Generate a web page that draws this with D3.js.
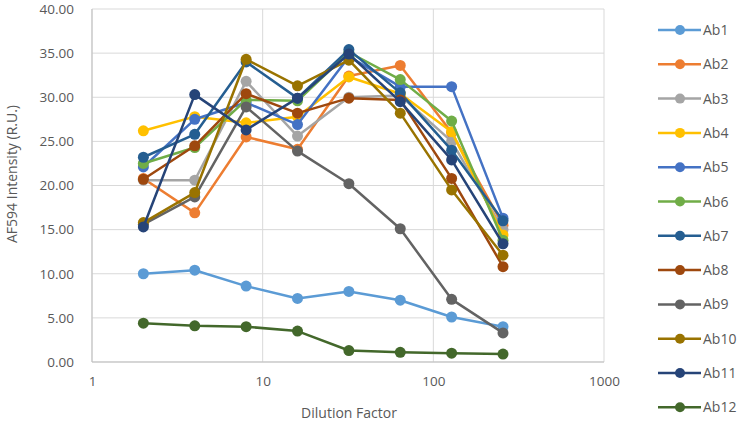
<!DOCTYPE html>
<html><head><meta charset="utf-8">
<script src="https://cdn.jsdelivr.net/npm/d3@7"></script>
<style>body{margin:0;background:#fff}svg{display:block;font-family:"Open Sans","Liberation Sans",sans-serif}</style>
</head><body><svg id="c" width="750" height="430"></svg>
<script>
const dilutions = [2, 4, 8, 16, 32, 64, 128, 256];
const seriesNames = ["Ab1","Ab2","Ab3","Ab4","Ab5","Ab6","Ab7","Ab8","Ab9","Ab10","Ab11","Ab12"];
const colors = ["#5B9BD5","#ED7D31","#A5A5A5","#FFC000","#4472C4","#70AD47","#255E91","#9E480E","#636363","#997300","#264478","#43682B"];
const ab1  = [10.0, 10.4, 8.6, 7.2, 8.0, 7.0, 5.1, 4.0];
const ab2  = [20.8, 16.9, 25.5, 24.1, 32.4, 33.6, 26.0, 15.5];
const ab3  = [20.6, 20.6, 31.8, 25.6, 30.0, 30.2, 25.0, 15.0];
const ab4  = [26.2, 27.8, 27.1, 27.8, 32.3, 30.4, 26.1, 14.4];
const ab5  = [22.1, 27.5, 29.4, 26.9, 34.6, 31.2, 31.2, 16.3];
const ab6  = [22.5, 24.3, 29.7, 29.6, 35.1, 32.0, 27.3, 13.8];
const ab7  = [23.2, 25.8, 34.0, 29.9, 35.4, 30.5, 24.0, 16.0];
const ab8  = [20.7, 24.5, 30.4, 28.2, 29.9, 29.7, 20.8, 10.8];
const ab9  = [15.6, 18.7, 28.9, 23.9, 20.2, 15.1, 7.1, 3.3];
const ab10 = [15.8, 19.2, 34.3, 31.3, 34.2, 28.2, 19.5, 12.1];
const ab11 = [15.3, 30.3, 26.3, 29.9, 34.9, 29.5, 22.9, 13.4];
const ab12 = [4.4, 4.1, 4.0, 3.5, 1.3, 1.1, 1.0, 0.9];
const allValues = [ab1,ab2,ab3,ab4,ab5,ab6,ab7,ab8,ab9,ab10,ab11,ab12];
const yTicks = [0,5,10,15,20,25,30,35,40];
const xTicks = [1,10,100,1000];

const svg = d3.select("#c");
const L=92, R=604, T=9, B=362;
const x = d3.scaleLog().domain([1,1000]).range([L,R]);
const y = d3.scaleLinear().domain([0,40]).range([B,T]);
const grid = "#d9d9d9", txt = "#595959";

// horizontal grid
svg.append("g").selectAll("line").data(yTicks).join("line")
  .attr("x1",L).attr("x2",R).attr("y1",d=>y(d)).attr("y2",d=>y(d))
  .attr("stroke",grid).attr("stroke-width",1);
// vertical grid
svg.append("g").selectAll("line").data(xTicks).join("line")
  .attr("x1",d=>x(d)).attr("x2",d=>x(d)).attr("y1",T).attr("y2",B)
  .attr("stroke",grid).attr("stroke-width",1);
// axis lines
svg.append("line").attr("x1",L).attr("x2",L).attr("y1",T).attr("y2",B).attr("stroke","#bfbfbf");
svg.append("line").attr("x1",L).attr("x2",R).attr("y1",B).attr("y2",B).attr("stroke","#bfbfbf");

// y tick labels
const yAxis = d3.axisLeft(y).tickValues(yTicks).tickFormat(d3.format(".2f")).tickSize(0).tickPadding(18);
const gy = svg.append("g").attr("transform",`translate(${L},0)`).call(yAxis);
gy.select(".domain").remove();
gy.selectAll("text").attr("fill",txt).style("font-size","13.5px").style("font-family",'"Open Sans","Liberation Sans",sans-serif');

// x tick labels
const xAxis = d3.axisBottom(x).tickValues(xTicks).tickFormat(d3.format("d")).tickSize(0).tickPadding(14);
const gx = svg.append("g").attr("transform",`translate(0,${B})`).call(xAxis);
gx.select(".domain").remove();
gx.selectAll("text").attr("fill",txt).style("font-size","13.5px").style("font-family",'"Open Sans","Liberation Sans",sans-serif');

// axis titles
svg.append("text").attr("x",(L+R)/2+1).attr("y",418).attr("text-anchor","middle")
  .attr("fill",txt).style("font-size","14px").text("Dilution Factor");
svg.append("text").attr("transform",`translate(17,174) rotate(-90)`).attr("text-anchor","middle")
  .attr("fill",txt).style("font-size","14px").text("AF594 Intensity (R.U.)");

// series
const line = d3.line().x((d,i)=>x(dilutions[i])).y(d=>y(d));
allValues.forEach((vals,si)=>{
  const g = svg.append("g");
  g.append("path").datum(vals).attr("d",line).attr("fill","none")
    .attr("stroke",colors[si]).attr("stroke-width",2.5).attr("stroke-linejoin","round");
  g.selectAll("circle").data(vals).join("circle")
    .attr("cx",(d,i)=>x(dilutions[i])).attr("cy",d=>y(d)).attr("r",5.5)
    .attr("fill",colors[si]);
});

// legend
const lg = svg.append("g");
seriesNames.forEach((n,i)=>{
  const yy = 30 + i*34.3;
  lg.append("line").attr("x1",658).attr("x2",701).attr("y1",yy).attr("y2",yy)
    .attr("stroke",colors[i]).attr("stroke-width",2.5);
  lg.append("circle").attr("cx",680).attr("cy",yy).attr("r",5).attr("fill",colors[i]);
  lg.append("text").attr("x",703).attr("y",yy+5).attr("fill",txt).style("font-size","14px").text(n);
});
</script></body></html>
